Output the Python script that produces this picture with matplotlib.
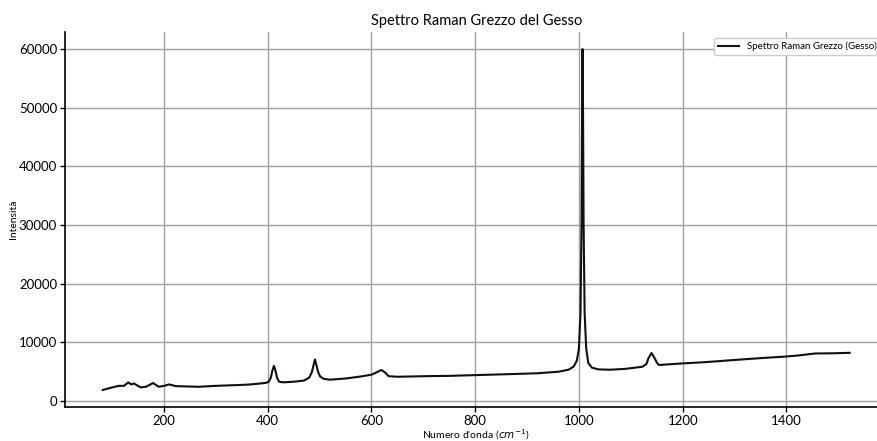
import numpy as np
import matplotlib.pyplot as plt

plt.rcParams['font.family'] = ['Lato', 'DejaVu Sans']

# Raw Raman spectrum of gypsum (wavenumber in cm^-1, intensity in counts)
numero_onda = [
    82, 100, 113, 123, 131, 137, 142, 155, 165, 179, 190, 200, 210, 223,
    267, 300, 331, 360, 380, 396, 402, 406, 409, 412, 415, 418, 422, 430,
    450, 470, 480, 485, 488, 491, 494, 497, 501, 508, 520, 550, 580, 600,
    610, 619, 626, 633, 650, 711, 749, 800, 845, 922, 942, 960, 980, 990,
    996, 1000, 1003, 1005, 1006, 1007, 1008, 1009, 1011, 1014, 1018, 1025,
    1038, 1060, 1090, 1122, 1130, 1134, 1140, 1146, 1150, 1154, 1170, 1199,
    1240, 1270, 1295, 1330, 1360, 1391, 1420, 1456, 1490, 1522,
]
intensita = [
    1900, 2330, 2600, 2600, 3180, 2840, 3010, 2330, 2440, 3070, 2440, 2600,
    2840, 2550, 2440, 2600, 2700, 2800, 2950, 3100, 3300, 4000, 5200, 6000,
    5200, 4000, 3300, 3200, 3300, 3500, 4000, 4900, 6000, 7100, 6100, 5000,
    4200, 3800, 3650, 3850, 4200, 4500, 4900, 5300, 4900, 4250, 4150, 4260,
    4300, 4430, 4540, 4750, 4890, 5000, 5350, 5900, 6900, 9000, 15000, 30000,
    48000, 60000, 48000, 30000, 15000, 9000, 6500, 5700, 5400, 5350, 5500,
    5850, 6300, 7300, 8200, 7300, 6600, 6150, 6250, 6420, 6620, 6810, 6980,
    7200, 7380, 7550, 7750, 8120, 8150, 8230,
]

fig = plt.figure(figsize=(8.78, 4.41), dpi=100)
ax = fig.add_axes([0.0745, 0.0771, 0.9358, 0.8503])

ax.plot(numero_onda, intensita, color='#150d15', linewidth=1.5,
        label='Spettro Raman Grezzo (Gesso)')

ax.set_title('Spettro Raman Grezzo del Gesso', fontsize=10.5, pad=5)
ax.set_xlabel("Numero d'onda ($cm^{-1}$)", fontsize=7.5, labelpad=0)
ax.set_ylabel('Intensità', fontsize=7.5)
ax.yaxis.set_label_coords(-0.058, 0.5)

ax.set_xticks([200, 400, 600, 800, 1000, 1200, 1400])
ax.set_yticks([0, 10000, 20000, 30000, 40000, 50000, 60000])
ax.tick_params(labelsize=9.5, width=1, length=3.5, pad=2.5)

ax.grid(True, color='#a0a0a0', linewidth=1)
ax.set_axisbelow(True)
ax.spines['top'].set_visible(False)
ax.spines['right'].set_visible(False)
ax.spines['left'].set_linewidth(1.2)
ax.spines['bottom'].set_linewidth(1.2)

ax.legend(loc='upper right', bbox_to_anchor=(1.0034, 0.9145),
          bbox_transform=fig.transFigure, borderaxespad=0, fontsize=7,
          handlelength=2.2, fancybox=True, framealpha=1, edgecolor='#cccccc')

fig.savefig('out.png', dpi=100)
